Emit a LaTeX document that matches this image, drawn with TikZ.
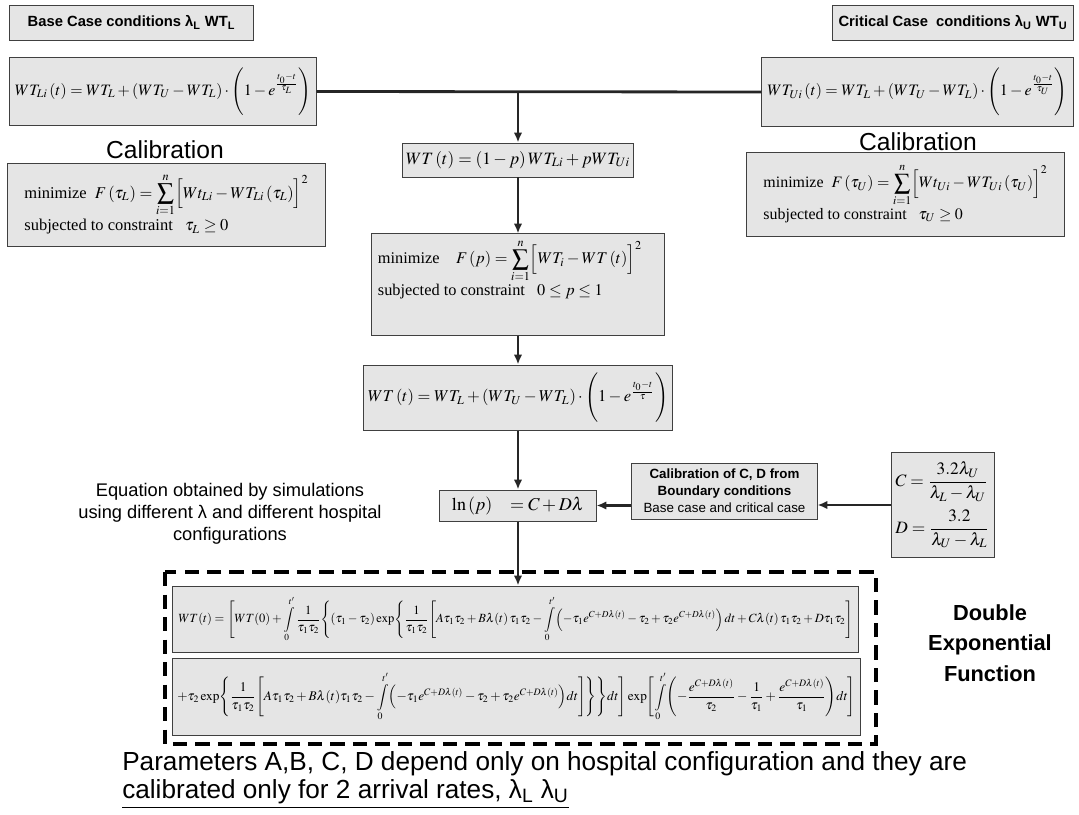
\documentclass[tikz,border=0pt]{standalone}
\usepackage{amsmath}
\usepackage{mathptmx}
\usepackage[no-math]{fontspec}
\setmainfont{Liberation Serif}
\setsansfont{Liberation Sans}
\usepackage{graphicx}
\usepackage{tikz}
\usetikzlibrary{positioning, arrows.meta}

\newcommand{\fitto}[2]{\resizebox{#1}{!}{#2}}

\begin{document}
\begin{tikzpicture}[x=0.025cm, y=-0.025cm,
    eqbox/.style={draw=black!75, fill=black!10, line width=0.7pt, inner sep=0pt},
    headbox/.style={eqbox, font=\sffamily\bfseries\fontsize{10.5}{12}\selectfont},
    flow/.style={-{Latex[length=7pt,width=6pt]}, line width=1.7pt, black!85},
    bigword/.style={font=\sffamily\fontsize{17.5}{20}\selectfont, inner sep=0pt}]

    \useasboundingbox (0,0) rectangle (1079,815);

    \node[headbox, minimum width=6.075cm, minimum height=0.875cm] (base) at (131.5,22.5)
      {Base Case conditions λ\textsubscript{L} WT\textsubscript{L}};
    \node[headbox, minimum width=6cm, minimum height=0.875cm] (crit) at (953,22.5)
      {Critical Case\ \ conditions λ\textsubscript{U} WT\textsubscript{U}};

    \node[eqbox, minimum width=7.65cm, minimum height=1.675cm] (wtl) at (163,91.5)
      {\fitto{7.4cm}{$\displaystyle WT_{Li}\left(t\right)=WT_L+\left(WT_U-WT_L\right)\cdot\Biggl(1-e^{\frac{t_0-t}{\tau_L}}\Biggr)$}};
    \node[eqbox, minimum width=7.775cm, minimum height=1.7cm] (wtu) at (917.5,92)
      {\fitto{7.5cm}{$\displaystyle WT_{Ui}\left(t\right)=WT_L+\left(WT_U-WT_L\right)\cdot\Biggl(1-e^{\frac{t_0-t}{\tau_U}}\Biggr)$}};

    \node[bigword] (calL) at (165,150) {Calibration};
    \node[bigword] (calR) at (918,142) {Calibration};

    \node[eqbox, minimum width=7.925cm, minimum height=2.05cm] (minL) at (166.5,205)
      {\fitto{7.1cm}{\begin{tabular}{@{}l@{}}
        minimize\ \ $\displaystyle F\left(\tau_L\right)=\sum_{i=1}^{n}\Bigl[Wt_{Li}-WT_{Li}\left(\tau_L\right)\Bigr]^2$\\[2pt]
        subjected to constraint\ \ \ $\tau_L\ge 0$
      \end{tabular}}};
    \node[eqbox, minimum width=7.925cm, minimum height=2.075cm] (minR) at (905.5,194.5)
      {\fitto{7.1cm}{\begin{tabular}{@{}l@{}}
        minimize\ \ $\displaystyle F\left(\tau_U\right)=\sum_{i=1}^{n}\Bigl[Wt_{Ui}-WT_{Ui}\left(\tau_U\right)\Bigr]^2$\\[2pt]
        subjected to constraint\ \ \ $\tau_U\ge 0$
      \end{tabular}}};

    \node[eqbox, minimum width=5.775cm, minimum height=0.85cm] (mix) at (518,160)
      {\fitto{5.6cm}{$WT\left(t\right)=\left(1-p\right)WT_{Li}+pWT_{Ui}$}};

    \node[eqbox, minimum width=7.3cm, minimum height=2.525cm] (minP) at (518,284.5)
      {\parbox[c][2.4cm][t]{7cm}{\vspace{2pt}\fitto{6.6cm}{\begin{tabular}{@{}l@{}}
        minimize\ \ \ \ $\displaystyle F\left(p\right)=\sum_{i=1}^{n}\Bigl[WT_i-WT\left(t\right)\Bigr]^2$\\[2pt]
        subjected to constraint\ \ \ $0\le p\le 1$
      \end{tabular}}}};

    \node[eqbox, minimum width=7.725cm, minimum height=1.625cm] (wt) at (518,397.5)
      {\fitto{7.5cm}{$\displaystyle WT\left(t\right)=WT_L+\left(WT_U-WT_L\right)\cdot\Biggl(1-e^{\frac{t_0-t}{\tau}}\Biggr)$}};

    \node[font=\sffamily\fontsize{13}{15.5}\selectfont, align=center] (sim) at (230,514)
      {Equation obtained by simulations\\using different λ and different hospital\\configurations};

    \node[eqbox, minimum width=3.9cm, minimum height=0.775cm] (lnp) at (518,505.5)
      {\fitto{3.3cm}{$\ln\left(p\right)\ \ \ =C+D\lambda$}\hspace{0.4cm}};

    \node[eqbox, minimum width=4.625cm, minimum height=1.4cm, align=center,
      font=\sffamily\fontsize{9.5}{12}\selectfont] (calCD) at (724.5,491)
      {\textbf{Calibration of C, D from}\\\textbf{Boundary conditions}\\Base case and critical case};

    \node[eqbox, minimum width=2.575cm, minimum height=2.6cm] (CD) at (942.5,505)
      {\fitto{2.35cm}{$\begin{array}{@{}l@{}}
        C=\dfrac{3.2\lambda_U}{\lambda_L-\lambda_U}\\[10pt]
        D=\dfrac{3.2}{\lambda_U-\lambda_L}
      \end{array}$}};

    \draw[line width=2.8pt, dash pattern=on 10pt off 6pt] (165,572) rectangle (876,744);

    \node[eqbox, minimum width=17.125cm, minimum height=1.65cm] (eq1) at (515.5,619)
      {\fitto{16.85cm}{$\displaystyle WT(t)=\Biggl[WT(0)+\int\limits_0^{t'}\frac{1}{\tau_1\tau_2}\Biggl\{(\tau_1-\tau_2)\exp\Biggl\{\frac{1}{\tau_1\tau_2}\Biggl[A\tau_1\tau_2+B\lambda(t)\,\tau_1\tau_2-\int\limits_0^{t'}\Bigl(-\tau_1e^{C+D\lambda(t)}-\tau_2+\tau_2e^{C+D\lambda(t)}\Bigr)\,dt+C\lambda(t)\,\tau_1\tau_2+D\tau_1\tau_2\Biggr]$}};
    \node[eqbox, minimum width=17.175cm, minimum height=1.925cm] (eq2) at (516.5,696.5)
      {\fitto{16.95cm}{$\displaystyle +\tau_2\exp\Biggl\{\frac{1}{\tau_1\tau_2}\Biggl[A\tau_1\tau_2+B\lambda(t)\tau_1\tau_2-\int\limits_0^{t'}\Bigl(-\tau_1e^{C+D\lambda(t)}-\tau_2+\tau_2e^{C+D\lambda(t)}\Bigr)dt\Biggr]\Biggr\}\Biggr\}dt\Biggr]\exp\Biggl[\int\limits_0^{t'}\Biggl(-\frac{e^{C+D\lambda(t)}}{\tau_2}-\frac{1}{\tau_1}+\frac{e^{C+D\lambda(t)}}{\tau_1}\Biggr)dt\Biggr]$}};

    \node[font=\sffamily\bfseries\fontsize{15.5}{21.5}\selectfont, align=center] (dbl) at (990,643)
      {Double\\Exponential\\Function};

    \node[bigword, font=\sffamily\fontsize{18.6}{21}\selectfont, anchor=base west] (par1) at (122,770)
      {Parameters A,B, C, D depend only on hospital configuration and they are};
    \node[bigword, font=\sffamily\fontsize{18.6}{21}\selectfont, anchor=base west] (par2) at (122,798)
      {\underline{calibrated only for 2 arrival rates, λ\textsubscript{L} λ\textsubscript{U}}};

    \coordinate (split) at (mix.north |- wtl.east);
    \draw[line width=2pt, black!85] (wtl.east) -- (wtu.west);
    \draw[flow] (split) -- (mix.north);
    \draw[flow] (mix.south) -- (minP.north);
    \draw[flow] (minP.south) -- (wt.north);
    \draw[flow] (wt.south) -- (lnp.north);
    \draw[flow] (CD.west) -- (CD.west -| calCD.east);
    \draw[flow] (calCD.west |- lnp.east) -- (lnp.east);
    \draw[flow] (lnp.south) -- (lnp.south |- eq1.north);
\end{tikzpicture}
\end{document}
